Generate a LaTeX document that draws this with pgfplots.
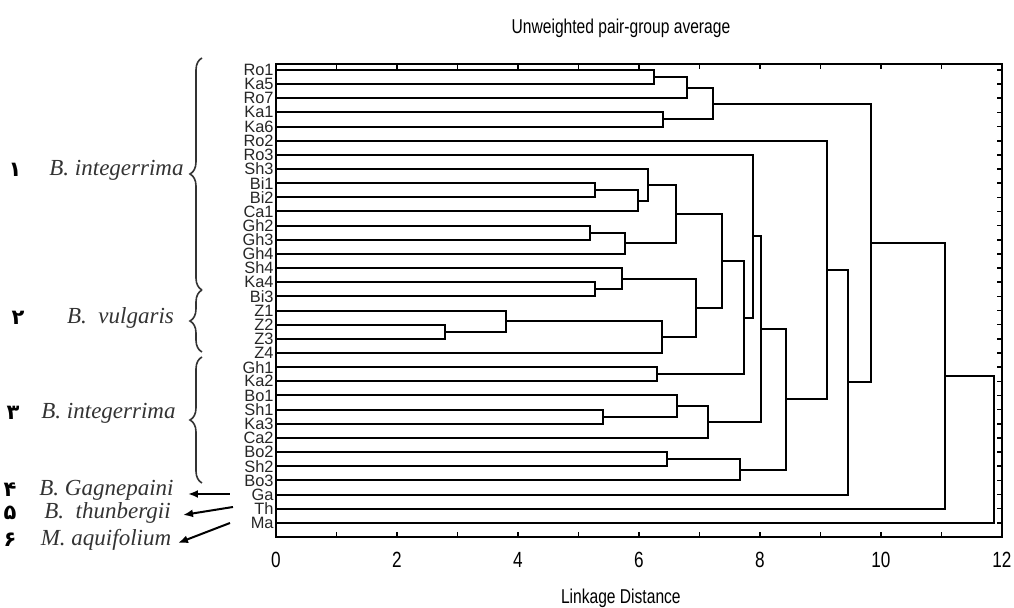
\documentclass[border=0pt]{standalone}
\usepackage{fontspec}
\setmainfont{Liberation Serif}
\newfontfamily\labfont{Liberation Sans}
\newfontfamily\narrow[FakeStretch=0.78]{Liberation Sans}
\newfontfamily\arabicfont[Script=Arabic]{DejaVu Sans}
\usepackage{pgfplots}
\pgfplotsset{compat=1.18}
\usetikzlibrary{decorations.pathreplacing,arrows.meta}
\TeXXeTstate=1
\pgfplotsset{br/.style={black, solid, line width=1pt, mark=none}}

\begin{document}
\begin{tikzpicture}
\useasboundingbox (-138pt,-35.5pt) rectangle (369pt,268.5pt);
\begin{axis}[
  at={(0,0)}, anchor=south west,
  scale only axis, width=363pt, height=236.5pt,
  xmin=0, xmax=12, ymin=-0.42, ymax=33, y dir=reverse,
  axis line style={line width=0.9pt},
  xtick={0,2,...,12}, minor xtick={1,3,...,11},
  ytick={0,...,32},
  yticklabels={Ro1,Ka5,Ro7,Ka1,Ka6,Ro2,Ro3,Sh3,Bi1,Bi2,Ca1,Gh2,Gh3,Gh4,Sh4,Ka4,Bi3,
               Z1,Z2,Z3,Z4,Gh1,Ka2,Bo1,Sh1,Ka3,Ca2,Bo2,Sh2,Bo3,Ga,Th,Ma},
  tick align=inside, major tick length=2.5pt, minor tick length=2.5pt,
  tick style={line width=0.8pt, black},
  /pgf/number format/assume math mode=true,
  xticklabel style={font=\narrow\fontsize{11}{11}\selectfont, yshift=-4pt},
  yticklabel style={font=\labfont\fontsize{8.2}{8.2}\selectfont, inner sep=1pt, text=black!85},
  xlabel={Linkage Distance},
  xlabel style={font=\narrow\fontsize{10}{10}\selectfont, at={(axis description cs:0.475,0)}, anchor=center, yshift=-30.5pt},
]
% each merge: left child -> height -> right child
\addplot[br] coordinates {(0,0) (6.24,0) (6.24,1) (0,1)};
\addplot[br] coordinates {(6.24,0.5) (6.80,0.5) (6.80,2) (0,2)};
\addplot[br] coordinates {(0,3) (6.39,3) (6.39,4) (0,4)};
\addplot[br] coordinates {(6.80,1.25) (7.22,1.25) (7.22,3.5) (6.39,3.5)};
\addplot[br] coordinates {(0,8) (5.28,8) (5.28,9) (0,9)};
\addplot[br] coordinates {(5.28,8.5) (5.99,8.5) (5.99,10) (0,10)};
\addplot[br] coordinates {(0,7) (6.15,7) (6.15,9.25) (5.99,9.25)};
\addplot[br] coordinates {(0,11) (5.19,11) (5.19,12) (0,12)};
\addplot[br] coordinates {(5.19,11.5) (5.77,11.5) (5.77,13) (0,13)};
\addplot[br] coordinates {(6.15,8.125) (6.61,8.125) (6.61,12.25) (5.77,12.25)};
\addplot[br] coordinates {(0,15) (5.28,15) (5.28,16) (0,16)};
\addplot[br] coordinates {(0,14) (5.72,14) (5.72,15.5) (5.28,15.5)};
\addplot[br] coordinates {(0,18) (2.80,18) (2.80,19) (0,19)};
\addplot[br] coordinates {(0,17) (3.80,17) (3.80,18.5) (2.80,18.5)};
\addplot[br] coordinates {(3.80,17.75) (6.38,17.75) (6.38,20) (0,20)};
\addplot[br] coordinates {(5.72,14.75) (6.94,14.75) (6.94,18.875) (6.38,18.875)};
\addplot[br] coordinates {(6.61,10.1875) (7.37,10.1875) (7.37,16.8125) (6.94,16.8125)};
\addplot[br] coordinates {(0,21) (6.29,21) (6.29,22) (0,22)};
\addplot[br] coordinates {(7.37,13.5) (7.74,13.5) (7.74,21.5) (6.29,21.5)};
\addplot[br] coordinates {(0,6) (7.89,6) (7.89,17.5) (7.74,17.5)};
\addplot[br] coordinates {(0,24) (5.40,24) (5.40,25) (0,25)};
\addplot[br] coordinates {(0,23) (6.62,23) (6.62,24.5) (5.40,24.5)};
\addplot[br] coordinates {(6.62,23.75) (7.14,23.75) (7.14,26) (0,26)};
\addplot[br] coordinates {(7.89,11.75) (8.02,11.75) (8.02,24.875) (7.14,24.875)};
\addplot[br] coordinates {(0,27) (6.47,27) (6.47,28) (0,28)};
\addplot[br] coordinates {(6.47,27.5) (7.67,27.5) (7.67,29) (0,29)};
\addplot[br] coordinates {(8.02,18.3125) (8.43,18.3125) (8.43,28.25) (7.67,28.25)};
\addplot[br] coordinates {(0,5) (9.10,5) (9.10,23.28125) (8.43,23.28125)};
\addplot[br] coordinates {(9.10,14.140625) (9.46,14.140625) (9.46,30) (0,30)};
\addplot[br] coordinates {(7.22,2.375) (9.83,2.375) (9.83,22.0703) (9.46,22.0703)};
\addplot[br] coordinates {(9.83,12.2227) (11.06,12.2227) (11.06,31) (0,31)};
\addplot[br] coordinates {(11.06,21.6113) (11.87,21.6113) (11.87,32) (0,32)};
\end{axis}

\node[font=\narrow\fontsize{10}{10}\selectfont] at (172.5pt,254.5pt) {Unweighted pair-group average};

% group annotations
\begin{scope}[font=\itshape\fontsize{11.5}{11.5}\selectfont, text=black!80]
\node at (-79.75pt,183.5pt) {B. integerrima};
\node at (-77.75pt,109.5pt) {B.\ \ vulgaris};
\node at (-83.75pt,62pt) {B. integerrima};
\node at (-84.75pt,23.5pt) {B. Gagnepaini};
\node at (-84.25pt,12pt) {B.\ \ thunbergii};
\node at (-85pt,-1.5pt) {M. aquifolium};
\end{scope}
\begin{scope}[font=\arabicfont\bfseries\fontsize{10.5}{10.5}\selectfont]
\node at (-130.5pt,183.5pt) {\beginR ۱\endR};
\node at (-129pt,109.5pt) {\beginR ۲\endR};
\node at (-131.5pt,62pt) {\beginR ۳\endR};
\node at (-133pt,23.5pt) {\beginR ۴\endR};
\node at (-133pt,12pt) {\beginR ۵\endR};
\node at (-133pt,-1.5pt) {\beginR ۶\endR};
\end{scope}
\begin{scope}[line width=0.8pt, black!80, decoration={brace, amplitude=6pt}]
\draw[decorate] (-37pt,123.5pt) -- (-37pt,239.5pt);
\draw[decorate] (-37pt,92.5pt) -- (-37pt,123.5pt);
\draw[decorate] (-37pt,27pt) -- (-37pt,90pt);
\end{scope}
\begin{scope}[line width=1pt, -{Latex[length=5pt,width=4pt]}]
\draw (-23pt,21.5pt) -- (-44pt,21.5pt);
\draw (-21.5pt,15pt) -- (-46.5pt,11pt);
\draw (-23pt,7pt) -- (-49pt,-3pt);
\end{scope}
\end{tikzpicture}
\end{document}
